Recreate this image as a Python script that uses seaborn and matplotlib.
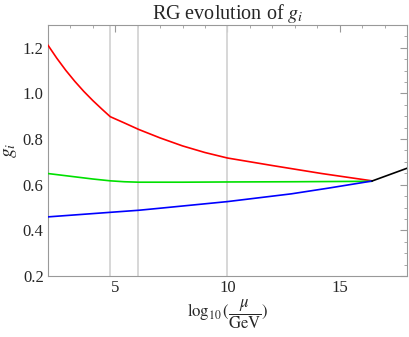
import numpy as np
import pandas as pd
import matplotlib
matplotlib.use("Agg")
import matplotlib.pyplot as plt
import seaborn as sns
from matplotlib.ticker import MultipleLocator

# values
red_x = [2.0, 2.4, 2.8, 3.2, 3.6, 4.0, 4.4, 4.78, 5.4, 6.05, 7.0, 8.0, 9.0, 10.0,
         12.0, 14.2, 16.44]
red_y = [1.212, 1.154, 1.101, 1.053, 1.009, 0.969, 0.932, 0.898, 0.871, 0.842,
         0.805, 0.770, 0.741, 0.717, 0.684, 0.649, 0.617]

green_x = [2.0, 3.0, 4.0, 4.78, 5.4, 6.05, 8.0, 10.0, 13.0, 16.44]
green_y = [0.649, 0.637, 0.625, 0.617, 0.613, 0.611, 0.611, 0.612, 0.613, 0.615]

blue_x = [2.0, 4.78, 6.05, 7.0, 10.0, 12.85, 14.5, 16.44]
blue_y = [0.459, 0.479, 0.488, 0.497, 0.526, 0.560, 0.585, 0.616]

black_x = [16.44, 18.0]
black_y = [0.616, 0.672]

thresholds = [4.78, 6.02, 10.0]

frames = []
for name, xs, ys in [("g1", red_x, red_y), ("g3", green_x, green_y),
                     ("g2", blue_x, blue_y), ("gU", black_x, black_y)]:
    frames.append(pd.DataFrame({"x": xs, "g": ys, "coupling": name}))
df = pd.concat(frames, ignore_index=True)

sns.set_theme(style="white")
plt.rcParams["font.family"] = ["Liberation Serif", "DejaVu Serif"]
plt.rcParams["mathtext.fontset"] = "stix"

fig = plt.figure(figsize=(4.09, 3.37), dpi=100)
ax = fig.add_axes([0.117, 0.181, 0.878, 0.745])

for xv in thresholds:
    ax.axvline(xv, color="#d4d4d4", lw=1.3, zorder=1)

sns.lineplot(data=df, x="x", y="g", hue="coupling", estimator=None, sort=False,
             palette={"g1": "#ff0000", "g3": "#00e000", "g2": "#0000ff", "gU": "black"},
             lw=1.2, legend=False, ax=ax, zorder=3)

ax.set_xlim(2, 18)
ax.set_ylim(0.2, 1.3)
ax.xaxis.set_major_locator(MultipleLocator(5))
ax.xaxis.set_minor_locator(MultipleLocator(1))
ax.yaxis.set_major_locator(MultipleLocator(0.2))
ax.yaxis.set_minor_locator(MultipleLocator(0.05))
ax.yaxis.set_major_formatter(matplotlib.ticker.FormatStrFormatter("%.1f"))
ax.tick_params(which="both", direction="in", top=True, right=True,
               color="#999999", labelsize=12, pad=3)
ax.tick_params(which="major", length=5, width=0.8)
ax.tick_params(which="minor", length=2.5, width=0.6)
for s in ax.spines.values():
    s.set_color("#999999")
    s.set_linewidth(0.8)

ax.set_title(r"RG evolution of $g_i$", fontsize=14.5, pad=4)
ax.set_xlabel(r"$\log_{10}(\dfrac{\mu}{\mathrm{GeV}})$", fontsize=12, labelpad=1)
ax.set_ylabel(r"$g_i$", fontsize=14, labelpad=3)

fig.savefig("out.png", dpi=100)
